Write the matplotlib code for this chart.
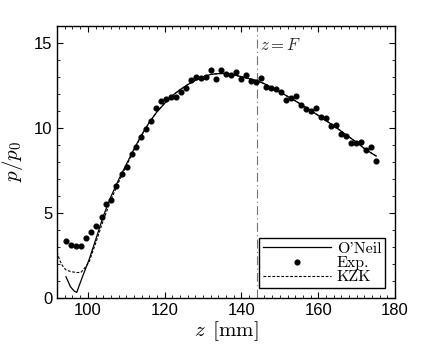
import numpy as np
import matplotlib
matplotlib.use("Agg")
import matplotlib.pyplot as plt
from matplotlib.ticker import MultipleLocator

plt.rcParams['mathtext.fontset'] = 'cm'
plt.rcParams['font.family'] = ['Liberation Sans', 'DejaVu Sans']

# experimental points (z in mm, p/p0)
z_exp = [94.3, 95.7, 97.0, 98.3, 99.6, 100.9, 102.2, 103.6, 104.8, 106.0,
         107.4, 108.8, 110.1, 111.4, 112.6, 113.9, 115.2, 116.5, 117.8, 119.1,
         120.4, 121.7, 123.0, 124.3, 125.6, 126.9, 128.2, 129.5, 130.8, 132.1,
         133.4, 134.7, 136.0, 137.3, 138.6, 139.9, 141.3, 142.6, 143.9, 145.2,
         146.5, 147.8, 149.1, 150.4, 151.7, 153.0, 154.3, 155.6, 156.9, 158.2,
         159.5, 160.8, 162.1, 163.4, 164.7, 166.0, 167.3, 168.6, 169.9, 171.2,
         172.5, 173.8, 175.1]
p_exp = [3.35, 3.10, 3.06, 3.08, 3.53, 3.86, 4.24, 4.78, 5.50, 5.74,
         6.60, 7.30, 7.70, 8.45, 8.90, 9.45, 9.95, 10.40, 11.20, 11.57,
         11.69, 11.80, 11.80, 12.10, 12.35, 12.80, 12.97, 12.96, 13.00, 13.40,
         12.90, 13.43, 13.20, 13.10, 13.27, 12.88, 13.14, 12.78, 12.73, 12.92,
         12.40, 12.34, 12.28, 12.10, 11.67, 11.76, 11.88, 11.33, 11.10, 11.00,
         11.16, 10.65, 10.59, 10.10, 10.16, 9.65, 9.53, 9.10, 9.10, 9.18,
         8.69, 8.86, 8.04]

# O'Neil solution
z_oneil = [94.3, 95.5, 96.5, 97.1, 98.6, 100.3, 102, 104, 106, 108, 110, 112,
           114, 116, 118, 120, 122, 124, 126, 128, 130, 132, 134, 136, 138,
           140, 142, 144, 146, 148, 150, 152, 154, 156, 158, 160, 162, 164,
           166, 168, 170, 172, 174, 175.1]
p_oneil = [1.25, 0.65, 0.40, 0.33, 1.25, 2.24, 3.40, 4.80, 5.95, 6.95, 7.85, 8.75,
           9.60, 10.33, 10.95, 11.45, 11.90, 12.25, 12.55, 12.80, 13.00, 13.15, 13.20, 13.20, 13.12,
           13.02, 12.90, 12.78, 12.60, 12.37, 12.12, 11.86, 11.60, 11.32, 11.03, 10.74, 10.44, 10.13,
           9.81, 9.48, 9.15, 8.80, 8.50, 8.35]

# KZK solution
z_kzk = [92.0, 92.7, 93.4, 94.3, 95.6, 97.0, 98.2, 99.3, 100.3, 102, 104, 106,
         108, 110, 112, 114, 116, 118, 120, 122, 124, 126, 128, 130, 132, 134,
         136, 138, 140, 142, 144, 146, 148, 150, 152, 154, 156, 158, 160, 162,
         164, 166, 168, 170, 172, 174, 175.1]
p_kzk = [2.70, 2.20, 1.90, 1.65, 1.55, 1.50, 1.50, 1.80, 2.10, 3.20, 4.55, 5.75,
         6.80, 7.75, 8.70, 9.55, 10.33, 10.95, 11.45, 11.90, 12.25, 12.55, 12.80, 13.00, 13.15, 13.20,
         13.20, 13.12, 13.02, 12.90, 12.78, 12.60, 12.37, 12.12, 11.86, 11.60, 11.32, 11.03, 10.74, 10.44,
         10.13, 9.81, 9.48, 9.15, 8.80, 8.50, 8.35]

z_focus = 144.0

fig = plt.figure(figsize=(4.36, 3.51), dpi=100)
ax = fig.add_axes([0.131, 0.151, 0.775, 0.775])

ax.axvline(z_focus, color='0.45', lw=0.8, dashes=(8, 3, 1, 3))
ax.plot(z_oneil, p_oneil, '-', color='k', lw=0.9, label="O'Neil")
ax.plot(z_exp, p_exp, 'o', color='k', ms=3.4, mec='k', label='Exp.')
ax.plot(z_kzk, p_kzk, color='k', lw=0.8, dashes=(2.5, 1.5), label='KZK')

ax.text(z_focus + 0.8, 14.9, r'$z = F$', fontsize=12, color='0.15', va='center', ha='left')

ax.set_xlim(92, 180)
ax.set_ylim(0, 16)
ax.set_xticks([100, 120, 140, 160, 180])
ax.set_yticks([0, 5, 10, 15])
ax.xaxis.set_minor_locator(MultipleLocator(2))
ax.yaxis.set_minor_locator(MultipleLocator(1))
ax.tick_params(which='both', direction='in', top=True, right=True, labelsize=12, colors='k')
ax.tick_params(which='major', length=4, width=0.8)
ax.tick_params(which='minor', length=2, width=0.6)
for s in ax.spines.values():
    s.set_linewidth(1.0)

ax.set_xlabel(r'$z\ \,[\mathrm{mm}]$', fontsize=15, labelpad=1)
ax.set_ylabel(r'$p/p_0$', fontsize=15, labelpad=6)

leg = ax.legend(loc='lower right', numpoints=1, handlelength=4.2, fancybox=False,
                framealpha=1, edgecolor='k', borderpad=0.25, labelspacing=0.0,
                handletextpad=0.4, borderaxespad=0.6,
                prop={'family': ['cmr10', 'DejaVu Serif'], 'size': 11.5},
                markerfirst=True)
leg.get_frame().set_linewidth(1.0)

fig.savefig('out.png', dpi=100)
